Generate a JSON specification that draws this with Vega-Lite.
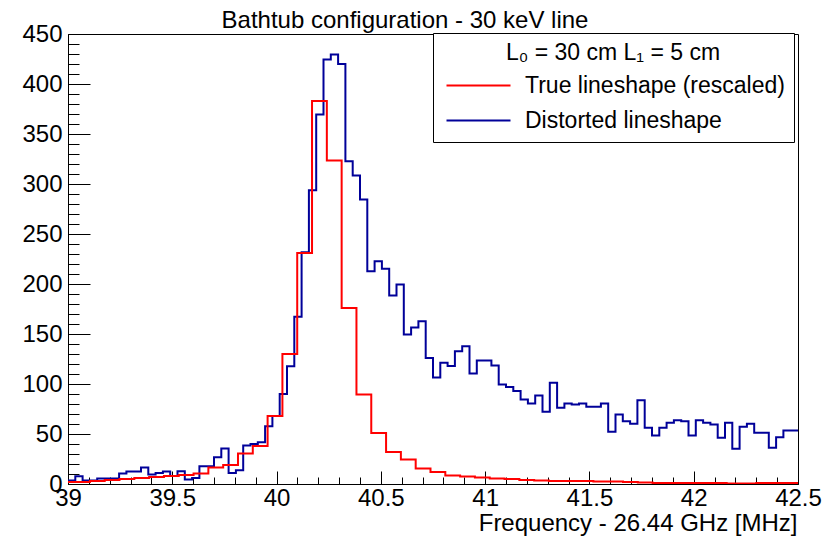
{
  "$schema": "https://vega.github.io/schema/vega-lite/v6.json",
  "autosize": {"type": "none"},
  "padding": {"left": 68, "top": 34, "right": 27, "bottom": 54},
  "width": 730,
  "height": 450,
  "background": "white",
  "title": {"text": "Bathtub configuration - 30 keV line", "fontSize": 24, "font": "Liberation Sans", "fontWeight": "normal", "color": "black", "anchor": "middle", "frame": "group", "dx": -28, "dy": 36, "offset": 6, "baseline": "alphabetic"},
  "config": {
    "font": "Liberation Sans",
    "view": {"stroke": "black", "strokeWidth": 1},
    "axis": {"grid": false, "domainColor": "black", "tickColor": "black", "labelColor": "black", "titleColor": "black", "labelFont": "Liberation Sans", "titleFont": "Liberation Sans"}
  },
  "datasets": {
    "distorted": [
      {"x": 39.000, "n": 3.5}, {"x": 39.035, "n": 7.8}, {"x": 39.070, "n": 3.5}, {"x": 39.105, "n": 3.5}, {"x": 39.140, "n": 5.5},
      {"x": 39.175, "n": 5.5}, {"x": 39.210, "n": 5.5}, {"x": 39.245, "n": 10.5}, {"x": 39.280, "n": 12.5}, {"x": 39.315, "n": 12.5},
      {"x": 39.350, "n": 16.5}, {"x": 39.385, "n": 9.5}, {"x": 39.420, "n": 11}, {"x": 39.455, "n": 12.5}, {"x": 39.490, "n": 8},
      {"x": 39.525, "n": 12.8}, {"x": 39.560, "n": 4.5}, {"x": 39.595, "n": 6}, {"x": 39.630, "n": 17.8}, {"x": 39.665, "n": 17.8},
      {"x": 39.700, "n": 26.8}, {"x": 39.735, "n": 35.5}, {"x": 39.770, "n": 11}, {"x": 39.805, "n": 13.8}, {"x": 39.840, "n": 38.5},
      {"x": 39.875, "n": 40}, {"x": 39.910, "n": 41.8}, {"x": 39.945, "n": 57.8}, {"x": 39.980, "n": 68}, {"x": 40.015, "n": 90},
      {"x": 40.050, "n": 117.8}, {"x": 40.085, "n": 167.2}, {"x": 40.120, "n": 231.8}, {"x": 40.155, "n": 293.8}, {"x": 40.190, "n": 369.5},
      {"x": 40.225, "n": 424.5}, {"x": 40.260, "n": 429.5}, {"x": 40.295, "n": 420}, {"x": 40.330, "n": 322.8}, {"x": 40.365, "n": 308.5},
      {"x": 40.400, "n": 284.5}, {"x": 40.435, "n": 212.8}, {"x": 40.470, "n": 222.8}, {"x": 40.505, "n": 215.2}, {"x": 40.540, "n": 188.5},
      {"x": 40.575, "n": 199.5}, {"x": 40.610, "n": 149.5}, {"x": 40.645, "n": 156.5}, {"x": 40.680, "n": 162.8}, {"x": 40.715, "n": 126},
      {"x": 40.750, "n": 106.5}, {"x": 40.785, "n": 121.2}, {"x": 40.820, "n": 118}, {"x": 40.855, "n": 132.8}, {"x": 40.890, "n": 137.8},
      {"x": 40.925, "n": 110.5}, {"x": 40.960, "n": 123.5}, {"x": 40.995, "n": 123.5}, {"x": 41.030, "n": 118.5}, {"x": 41.065, "n": 99.5},
      {"x": 41.100, "n": 97}, {"x": 41.135, "n": 93}, {"x": 41.170, "n": 84.5}, {"x": 41.205, "n": 80.5}, {"x": 41.240, "n": 88.5},
      {"x": 41.275, "n": 72.2}, {"x": 41.310, "n": 101.2}, {"x": 41.345, "n": 76.2}, {"x": 41.380, "n": 80.5}, {"x": 41.415, "n": 79.5},
      {"x": 41.450, "n": 80.5}, {"x": 41.485, "n": 77.2}, {"x": 41.520, "n": 77.2}, {"x": 41.555, "n": 80.5}, {"x": 41.590, "n": 52.2},
      {"x": 41.625, "n": 69.5}, {"x": 41.660, "n": 62.8}, {"x": 41.695, "n": 60.2}, {"x": 41.730, "n": 83.8}, {"x": 41.765, "n": 56.2},
      {"x": 41.800, "n": 48.5}, {"x": 41.835, "n": 56.2}, {"x": 41.870, "n": 61.2}, {"x": 41.905, "n": 63.8}, {"x": 41.940, "n": 62.8},
      {"x": 41.975, "n": 48.5}, {"x": 42.010, "n": 63.8}, {"x": 42.045, "n": 61.2}, {"x": 42.080, "n": 59.5}, {"x": 42.115, "n": 46.2},
      {"x": 42.150, "n": 61.2}, {"x": 42.185, "n": 35.2}, {"x": 42.220, "n": 57.2}, {"x": 42.255, "n": 60.2}, {"x": 42.290, "n": 51.2},
      {"x": 42.325, "n": 51.2}, {"x": 42.360, "n": 36.2}, {"x": 42.395, "n": 46.8}, {"x": 42.430, "n": 53.5}, {"x": 42.465, "n": 53.5},
      {"x": 42.500, "n": 53.5}
    ],
    "true": [
      {"x": 39.000, "n": 2}, {"x": 39.034, "n": 2}, {"x": 39.105, "n": 3}, {"x": 39.176, "n": 4}, {"x": 39.247, "n": 5},
      {"x": 39.318, "n": 6}, {"x": 39.389, "n": 7}, {"x": 39.460, "n": 8}, {"x": 39.531, "n": 9}, {"x": 39.602, "n": 10.5},
      {"x": 39.673, "n": 16.5}, {"x": 39.744, "n": 19}, {"x": 39.815, "n": 30.5}, {"x": 39.886, "n": 38}, {"x": 39.957, "n": 68},
      {"x": 40.028, "n": 130}, {"x": 40.099, "n": 231}, {"x": 40.170, "n": 383}, {"x": 40.241, "n": 323.5}, {"x": 40.312, "n": 176},
      {"x": 40.383, "n": 89.5}, {"x": 40.454, "n": 51}, {"x": 40.525, "n": 32}, {"x": 40.596, "n": 24.5}, {"x": 40.667, "n": 15.5},
      {"x": 40.738, "n": 12}, {"x": 40.809, "n": 8.5}, {"x": 40.880, "n": 7.5}, {"x": 40.951, "n": 6.5}, {"x": 41.022, "n": 5.5},
      {"x": 41.093, "n": 5}, {"x": 41.164, "n": 4}, {"x": 41.235, "n": 3.5}, {"x": 41.306, "n": 3}, {"x": 41.377, "n": 3},
      {"x": 41.448, "n": 3}, {"x": 41.519, "n": 2.5}, {"x": 41.590, "n": 2.5}, {"x": 41.661, "n": 2}, {"x": 41.732, "n": 1.5},
      {"x": 41.803, "n": 1}, {"x": 41.874, "n": 1}, {"x": 41.945, "n": 1}, {"x": 42.016, "n": 1}, {"x": 42.087, "n": 1},
      {"x": 42.158, "n": 0.5}, {"x": 42.229, "n": 0.5}, {"x": 42.300, "n": 1}, {"x": 42.371, "n": 1}, {"x": 42.442, "n": 1},
      {"x": 42.500, "n": 1}
    ]
  },
  "layer": [
    {
      "data": {"name": "distorted"},
      "transform": [{"calculate": "'Distorted lineshape'", "as": "series"}],
      "mark": {"type": "line", "interpolate": "step-after", "strokeWidth": 2, "clip": true},
      "encoding": {
        "x": {"field": "x", "type": "quantitative",
          "scale": {"domain": [39, 42.5], "nice": false, "zero": false},
          "axis": {"values": [39, 39.5, 40, 40.5, 41, 41.5, 42, 42.5], "format": "~g", "labelFlush": false, "labelOverlap": false, "labelBound": false,
            "tickSize": -13, "tickWidth": 1, "labelPadding": 15, "labelFontSize": 24,
            "title": "Frequency - 26.44 GHz [MHz]", "titleFontSize": 24, "titleFontWeight": "normal",
            "titleAnchor": "end", "titleAlign": "right", "titleX": 729, "titleY": 46, "titleBaseline": "alphabetic"}},
        "y": {"field": "n", "type": "quantitative",
          "scale": {"domain": [0, 450], "nice": false},
          "axis": {"values": [0, 50, 100, 150, 200, 250, 300, 350, 400, 450], "labelOverlap": false, "labelBound": false, "labelFlush": false,
            "tickSize": -22, "tickWidth": 1, "labelPadding": 28, "labelFontSize": 24, "title": null}},
        "color": {"field": "series", "type": "nominal",
          "scale": {"domain": ["True lineshape (rescaled)", "Distorted lineshape"], "range": ["#ff0000", "#000099"]},
          "legend": {"orient": "none", "legendX": 365, "legendY": -1, "direction": "vertical",
            "title": "L₀ = 30 cm L₁ = 5 cm", "titleFontSize": 23, "titleFontWeight": "normal", "titleColor": "black", "titleAnchor": "middle", "titlePadding": 9, "titleLimit": 400,
            "labelFontSize": 23, "labelColor": "black", "labelOffset": 11, "labelLimit": 400,
            "symbolType": "M-7,0H1", "symbolSize": 256, "symbolStrokeWidth": 2, "symbolOffset": 49,
            "rowPadding": 11, "padding": 9, "strokeColor": "black", "fillColor": "white"}}
      }
    },
    {
      "data": {"name": "true"},
      "transform": [{"calculate": "'True lineshape (rescaled)'", "as": "series"}],
      "mark": {"type": "line", "interpolate": "step-after", "strokeWidth": 2, "clip": true},
      "encoding": {
        "x": {"field": "x", "type": "quantitative",
          "axis": {"orient": "bottom", "values": [39.1, 39.2, 39.3, 39.4, 39.6, 39.7, 39.8, 39.9, 40.1, 40.2, 40.3, 40.4, 40.6, 40.7, 40.8, 40.9, 41.1, 41.2, 41.3, 41.4, 41.6, 41.7, 41.8, 41.9, 42.1, 42.2, 42.3, 42.4],
            "labels": false, "domain": false, "tickSize": -7, "tickWidth": 1, "title": null}},
        "y": {"field": "n", "type": "quantitative",
          "axis": {"orient": "left", "values": [10, 20, 30, 40, 60, 70, 80, 90, 110, 120, 130, 140, 160, 170, 180, 190, 210, 220, 230, 240, 260, 270, 280, 290, 310, 320, 330, 340, 360, 370, 380, 390, 410, 420, 430, 440],
            "labels": false, "domain": false, "tickSize": -11, "tickWidth": 1, "title": null}},
        "color": {"field": "series", "type": "nominal"}
      }
    }
  ],
  "resolve": {"axis": {"x": "independent", "y": "independent"}}
}
